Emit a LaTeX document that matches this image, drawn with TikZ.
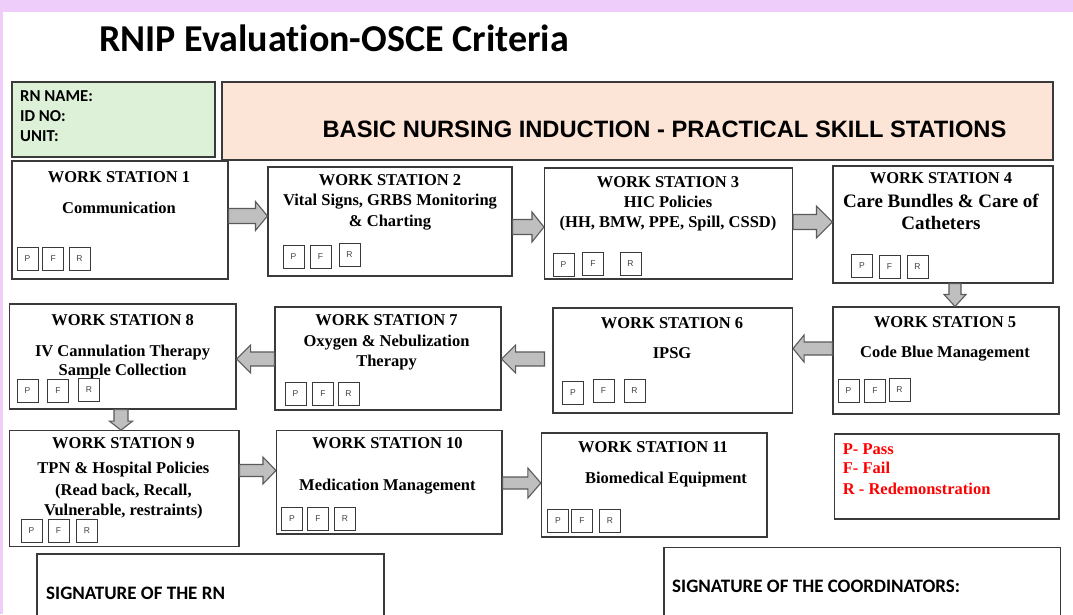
\documentclass[tikz,border=0pt]{standalone}
\usepackage{fontspec}
\setmainfont{Liberation Serif}
\newfontfamily\carlito[Ligatures={NoCommon,NoRequired}]{Carlito}
\newfontfamily\arialf{Liberation Sans}
\usetikzlibrary{calc,fit}
\definecolor{lav}{HTML}{EFCDFA}
\definecolor{lgreen}{HTML}{DDF0D8}
\definecolor{peach}{HTML}{FCE4D6}
\definecolor{agray}{HTML}{BFBFBF}
\definecolor{aline}{HTML}{5A5A5A}
\definecolor{bline}{HTML}{3A3A3A}
\tikzset{
  wsbox/.style={draw=bline, line width=1.1pt, fill=white},
  hdrbox/.style={draw=bline, line width=1.1pt},
  sigbox/.style={draw=bline, line width=1.3pt, fill=white},
  pfrbox/.style={draw=bline, line width=1pt, fill=white, minimum width=21pt, minimum height=23pt, inner sep=0pt, font=\arialf\fontsize{8.5}{9}\selectfont, text=black!75},
  wst/.style={anchor=base, inner sep=0pt, font=\bfseries\fontsize{16.5}{19}\selectfont},
  wsbig/.style={anchor=base, inner sep=0pt, font=\bfseries\fontsize{19}{22}\selectfont},
  legt/.style={anchor=base west, inner sep=0pt, text=red, font=\bfseries\fontsize{16.5}{19}\selectfont},
  barrow/.style={fill=agray, draw=aline, line width=1.1pt, line join=miter},
}
\newcommand\bx[6]{\node[#6, fit={(#2,#3) (#4,#5)}, inner sep=0pt] (#1) {};}
\newcommand\pfr[7]{%
  \node[pfrbox] (#1P) at (#2,#3) {P};
  \node[pfrbox] (#1F) at (#4,#5) {F};
  \node[pfrbox] (#1R) at (#6,#7) {R};}
\newcommand\rarr[5]{\filldraw[barrow] let \p1=(#1), \p2=(#2) in (\x1,\y1+#3) -- (\x2-#5,\y1+#3) -- (\x2-#5,\y1+#4) -- (\x2,\y1) -- (\x2-#5,\y1-#4) -- (\x2-#5,\y1-#3) -- (\x1,\y1-#3) -- cycle;}
\newcommand\larr[5]{\filldraw[barrow] let \p1=(#1), \p2=(#2) in (\x1,\y1+#3) -- (\x2+#5,\y1+#3) -- (\x2+#5,\y1+#4) -- (\x2,\y1) -- (\x2+#5,\y1-#4) -- (\x2+#5,\y1-#3) -- (\x1,\y1-#3) -- cycle;}
\newcommand\darr[5]{\filldraw[barrow] let \p1=(#1), \p2=(#2) in (\x1-#3,\y1) -- (\x1-#3,\y2+#5) -- (\x1-#4,\y2+#5) -- (\x1,\y2) -- (\x1+#4,\y2+#5) -- (\x1+#3,\y2+#5) -- (\x1+#3,\y1) -- cycle;}
\begin{document}
\begin{tikzpicture}[x=1pt,y=-1pt]
\useasboundingbox (0,0) rectangle (1073,614);
\fill[lav] (0,0) rectangle (1073,614);
\fill[white] (3,12) rectangle (1073,614);

% title
\node[anchor=base west, inner sep=0pt, font=\carlito\bfseries\fontsize{38}{44}\selectfont] (title) at (99,51.7) {RNIP Evaluation-OSCE Criteria};

% header boxes
\bx{info}{12}{82}{215}{157}{hdrbox, fill=lgreen}
\bx{banner}{222}{82}{1053}{160}{hdrbox, fill=peach}
\node[anchor=base west, inner sep=0pt, font=\carlito\bfseries\fontsize{16.7}{20}\selectfont] (rnname) at (20,101.7) {RN NAME:};
\node[anchor=base west, inner sep=0pt, font=\carlito\bfseries\fontsize{16.7}{20}\selectfont] (idno) at (20,121.7) {ID NO:};
\node[anchor=base west, inner sep=0pt, font=\carlito\bfseries\fontsize{16.7}{20}\selectfont] (unit) at (20,141.7) {UNIT:};
\node[anchor=base, inner sep=0pt, font=\arialf\bfseries\fontsize{23.7}{28}\selectfont] (bannertxt) at (664.5,137.7) {BASIC NURSING INDUCTION - PRACTICAL SKILL STATIONS};

% station boxes
\bx{ws1}{12}{161}{228}{279}{wsbox}
\bx{ws2}{268}{167}{512}{276}{wsbox}
\bx{ws3}{544.5}{168}{792.5}{279}{wsbox}
\bx{ws4}{833}{166}{1053}{283}{wsbox}
\bx{ws5}{833}{307}{1059}{414}{wsbox}
\bx{ws6}{553}{308}{792.5}{413}{wsbox}
\bx{ws7}{275}{307}{501}{410}{wsbox}
\bx{ws8}{9.6}{304}{236}{409}{wsbox}
\bx{ws9}{9.6}{430.7}{239}{546.7}{wsbox}
\bx{ws10}{276.5}{430.7}{502}{534}{wsbox}
\bx{ws11}{541.4}{433}{767}{537}{wsbox}
\bx{legend}{834.7}{434}{1059}{519}{wsbox}
\bx{sigrn}{37}{554}{384}{622}{sigbox}
\bx{sigco}{664}{547.7}{1060.5}{622}{sigbox}

% arrows
\rarr{ws1.east |- 0,216}{ws2.west |- 0,216}{7.5pt}{14.5pt}{12pt}
\rarr{ws2.east |- 0,227}{ws3.west |- 0,227}{7.5pt}{15pt}{12pt}
\rarr{ws3.east |- 0,222}{ws4.west |- 0,222}{7.5pt}{16pt}{16pt}
\darr{ws4.south -| 955,0}{ws5.north -| 955,0}{6pt}{11pt}{12pt}
\larr{ws5.west |- 0,348.5}{ws6.east |- 0,348.5}{6.5pt}{13.5pt}{11pt}
\larr{$(ws6.west |- 0,359)+(-8,0)$}{ws7.east |- 0,359}{7pt}{14pt}{14pt}
\larr{ws7.west |- 0,359}{ws8.east |- 0,359}{7pt}{14pt}{14pt}
\darr{ws8.south -| 121,0}{ws9.north -| 121,0}{7pt}{11.5pt}{9pt}
\rarr{ws9.east |- 0,470.5}{ws10.west |- 0,470.5}{6pt}{13.5pt}{13pt}
\rarr{ws10.east |- 0,483}{ws11.west |- 0,483}{6pt}{15pt}{13pt}

% station texts
\node[wst] (t1a) at (119,182.5) {WORK STATION 1};
\node[wst] (t1b) at (119,213.5) {Communication};
\node[wst] (t2a) at (390,185.5) {WORK STATION 2};
\node[wst] (t2b) at (390,205.5) {Vital Signs, GRBS Monitoring};
\node[wst] (t2c) at (390,226.5) {\& Charting};
\node[wst] (t3a) at (668,187.5) {WORK STATION 3};
\node[wst] (t3b) at (668,207.5) {HIC Policies};
\node[wst] (t3c) at (668,227.5) {(HH, BMW, PPE, Spill, CSSD)};
\node[wst] (t4a) at (941,183.5) {WORK STATION 4};
\node[wsbig] (t4b) at (941,207.3) {Care Bundles \& Care of};
\node[wsbig] (t4c) at (941,229.3) {Catheters};
\node[wst] (t5a) at (945,327.5) {WORK STATION 5};
\node[wst] (t5b) at (945,357.5) {Code Blue Management};
\node[wst] (t6a) at (672,328.5) {WORK STATION 6};
\node[wst] (t6b) at (672,358.5) {IPSG};
\node[wst] (t7a) at (386.5,325.5) {WORK STATION 7};
\node[wst] (t7b) at (386.5,346.5) {Oxygen \& Nebulization};
\node[wst] (t7c) at (386.5,366.5) {Therapy};
\node[wst] (t8a) at (122.6,325.5) {WORK STATION 8};
\node[wst] (t8b) at (122.6,356.5) {IV Cannulation Therapy};
\node[wst] (t8c) at (122.6,375.5) {Sample Collection};
\node[wst] (t9a) at (123.4,448.5) {WORK STATION 9};
\node[wst] (t9b) at (123.4,473.5) {TPN \& Hospital Policies};
\node[wst] (t9c) at (123.4,495.5) {(Read back, Recall,};
\node[wst] (t9d) at (123.4,515.5) {Vulnerable, restraints)};
\node[wst] (t10a) at (387.4,448.5) {WORK STATION 10};
\node[wst] (t10b) at (387.4,490.5) {Medication Management};
\node[wst] (t11a) at (653,452.5) {WORK STATION 11};
\node[wst] (t11b) at (666,483.5) {Biomedical Equipment};

% legend
\node[legt] (lp) at (842.7,454.5) {P- Pass};
\node[legt] (lf) at (842.7,473.5) {F- Fail};
\node[legt] (lr) at (842.7,494.5) {R - Redemonstration};

% P F R boxes
\pfr{ws1}{27.5}{258.5}{53.2}{258.5}{79.5}{258.5}
\pfr{ws2}{293.5}{257}{320.5}{257}{349.5}{255}
\pfr{ws3}{563.5}{265}{593}{263.5}{630.5}{263.5}
\pfr{ws4}{862}{266}{889.5}{267}{917.5}{267}
\pfr{ws5}{848.5}{391}{875}{391}{899.5}{390}
\pfr{ws6}{573}{392.5}{603.5}{391}{634.5}{391}
\pfr{ws7}{295.5}{394}{323}{394}{348.5}{394}
\pfr{ws8}{27.5}{390.5}{58}{390.5}{89}{389.5}
\pfr{ws9}{31.5}{530.5}{58.5}{530.5}{87}{530.5}
\pfr{ws10}{292}{518.5}{318}{518.5}{345}{518.5}
\pfr{ws11}{558}{521}{582}{521}{610}{521}

% signatures
\node[anchor=base west, inner sep=0pt, font=\carlito\bfseries\fontsize{19}{22}\selectfont] (sigrnt) at (46,599) {SIGNATURE OF THE RN};
\node[anchor=base west, inner sep=0pt, font=\carlito\bfseries\fontsize{19}{22}\selectfont] (sigcot) at (672,592.5) {SIGNATURE OF THE COORDINATORS:};
\end{tikzpicture}
\end{document}
